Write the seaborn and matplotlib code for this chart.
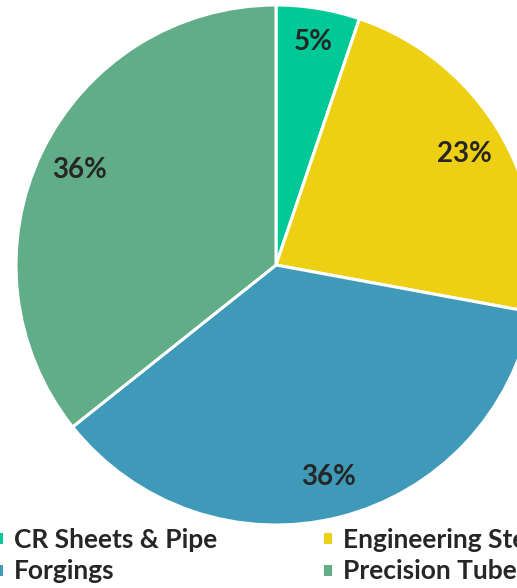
import numpy as np
import matplotlib.pyplot as plt
import seaborn as sns

# segment shares (%)
segments = ["CR Sheets & Pipe", "Engineering Steels", "Forgings", "Precision Tubes"]
shares = [5.2, 22.7, 36.4, 35.7]
colors = ["#00C896", "#EDCF14", "#3E9AB8", "#60AD87"]

sns.set_theme(style="white")
plt.rcParams['font.family'] = ['Lato', 'DejaVu Sans']

fig = plt.figure(figsize=(5.17, 5.88), dpi=100)
# pie runs past the right edge in the reference
ax = fig.add_axes([16 / 517, 63 / 588, 520 / 517, 520 / 588])

wedges, texts, autotexts = ax.pie(
    shares, colors=colors, startangle=90, counterclock=False,
    autopct='%1.0f%%', pctdistance=0.84,
    wedgeprops=dict(edgecolor='white', linewidth=2.2),
    textprops=dict(fontsize=20, fontweight='bold', color='#262626'))

# small slice label sits a little further out
x, y = autotexts[0].get_position()
autotexts[0].set_position((x * 0.87 / 0.84, y * 0.87 / 0.84))

ax.set_xlim(-1, 1)
ax.set_ylim(-1, 1)
ax.set_aspect('equal')
ax.axis('off')

# legend fills column-wise, so reorder for the 2x2 layout
order = [0, 2, 1, 3]
fig.legend([wedges[i] for i in order], [segments[i] for i in order],
           ncol=2, loc='lower left', bbox_to_anchor=(-0.0135, 0.008),
           frameon=False, borderpad=0, borderaxespad=0,
           handlelength=0.42, handleheight=0.42,
           handletextpad=0.38, columnspacing=3.95, labelspacing=0.29,
           prop=dict(size=19, weight='bold'), labelcolor='#262626')

fig.savefig('out.png', dpi=100)
